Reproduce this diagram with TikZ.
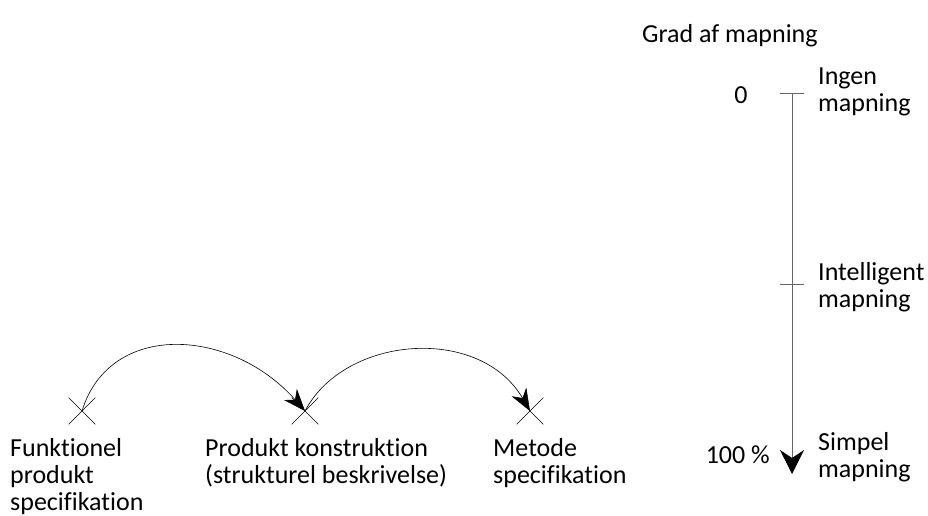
\documentclass[tikz,border=0pt]{standalone}
\usepackage{fontspec}
\setmainfont{Carlito}[Ligatures=NoCommon]
\usetikzlibrary{arrows.meta,shapes.misc}

\begin{document}
\begin{tikzpicture}[x=1pt, y=-1pt, >={Stealth[length=22pt,width=17pt,inset=7pt]},
  kryds/.style={cross out, draw, line width=0.6pt, minimum size=26pt, inner sep=0pt},
  tekst/.style={anchor=base west, align=left, inner sep=0pt,
    font=\fontsize{26}{27}\selectfont}]
  \useasboundingbox (0,0) rectangle (928,516);

  % punkter og buer
  \node[kryds] (funk) at (82,411) {};
  \node[kryds] (prod) at (305,411) {};
  \node[kryds] (meto) at (530,411) {};

  \draw[line width=0.6pt, ->] (funk.center) .. controls (110,320) and (232,328) .. (prod.center);
  \draw[line width=0.6pt, ->] (prod.center) .. controls (345,335) and (480,325) .. (meto.center);

  % tekst under punkterne (base = sidste linje)
  \node[tekst] (tfunk) at (10,510) {Funktionel\\produkt\\specifikation};
  \node[tekst] (tprod) at (205,483) {Produkt konstruktion\\(strukturel beskrivelse)};
  \node[tekst] (tmeto) at (493,483) {Metode\\specifikation};

  % akse
  \node[tekst] (titel) at (642,43) {Grad af mapning};
  \coordinate (top) at (792,93);
  \coordinate (midt) at (792,284);
  \coordinate (bund) at (792,474);

  \draw[black!60, line width=0.8pt,
    -{Stealth[length=24pt,width=24pt,inset=8pt,black]}] (top) -- (bund);
  \draw[black!60, line width=0.8pt] ([xshift=-12pt]top) -- ([xshift=12pt]top);
  \draw[black!60, line width=0.8pt] ([xshift=-12pt]midt) -- ([xshift=12pt]midt);

  \node[tekst, anchor=base] (nul) at (741,104) {0};
  \node[tekst, anchor=base east] (hundred) at (770,463) {100 \%};
  \node[tekst] (ingen) at (818,111) {Ingen\\mapning};
  \node[tekst] (intel) at (818,307) {Intelligent\\mapning};
  \node[tekst] (simpel) at (818,477) {Simpel\\mapning};
\end{tikzpicture}
\end{document}
